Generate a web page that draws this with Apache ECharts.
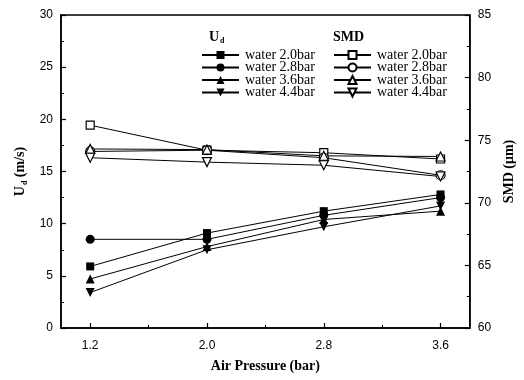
<!DOCTYPE html>
<html>
<head>
<meta charset="utf-8">
<script src="https://cdn.jsdelivr.net/npm/echarts@6/dist/echarts.min.js"></script>
<style>
  html, body { margin: 0; padding: 0; background: #fff; }
  #chart { width: 524px; height: 380px; }
</style>
</head>
<body>
<div id="chart"></div>
<script>
// Air pressure on the horizontal axis (bar)
const airPressure = [1.2, 2.0, 2.8, 3.6];
const xLabelTicks = [1.2, 2.0, 2.8, 3.6];
const xMinorTicks = [1.6, 2.4, 3.2];

// Water pressure of each curve
const waterLabels = ['water 2.0bar', 'water 2.8bar', 'water 3.6bar', 'water 4.4bar'];

// Droplet velocity U_d (m/s), left axis
const ud20 = [5.9, 9.1, 11.2, 12.8];
const ud28 = [8.5, 8.5, 10.8, 12.5];
const ud36 = [4.7, 7.8, 10.4, 11.2];
const ud44 = [3.4, 7.5, 9.7, 11.7];

// Sauter mean diameter SMD (μm), right axis
const smd20 = [76.2, 74.2, 74.0, 73.5];
const smd28 = [74.1, 74.2, 73.6, 72.2];
const smd36 = [74.3, 74.25, 73.75, 73.7];
const smd44 = [73.6, 73.25, 73.0, 72.1];

const serif = '"Liberation Serif", "DejaVu Serif", serif';
const sans = '"Liberation Sans", Arial, sans-serif';

const markerShapes = [
  { symbol: 'rect', rotate: 0, size: 8 },
  { symbol: 'circle', rotate: 0, size: 9 },
  { symbol: 'triangle', rotate: 0, size: 9 },
  { symbol: 'triangle', rotate: 180, size: 9 }
];

function pairs(ys) {
  return airPressure.map((x, i) => [x, ys[i]]);
}

function makeSeries(prefix, label, values, shape, filled, yIndex) {
  return {
    name: prefix + ' ' + label,
    type: 'line',
    xAxisIndex: 0,
    yAxisIndex: yIndex,
    data: pairs(values),
    symbol: shape.symbol,
    symbolRotate: shape.rotate,
    symbolSize: shape.size,
    showAllSymbol: true,
    lineStyle: { color: '#000', width: 1 },
    itemStyle: {
      color: filled ? '#000' : '#fff',
      borderColor: '#000',
      borderWidth: filled ? 0 : 1.2
    },
    emphasis: { disabled: true },
    animation: false,
    z: filled ? 3 : 4
  };
}

const udSets = [ud20, ud28, ud36, ud44];
const smdSets = [smd20, smd28, smd36, smd44];

const series = [];
udSets.forEach((vals, i) => series.push(makeSeries('Ud', waterLabels[i], vals, markerShapes[i], true, 0)));
smdSets.forEach((vals, i) => series.push(makeSeries('SMD', waterLabels[i], vals, markerShapes[i], false, 1)));

const legendCommon = {
  orient: 'vertical',
  top: 48,
  padding: 0,
  itemWidth: 37,
  itemHeight: 10,
  itemGap: -1.5,
  selectedMode: false,
  formatter: name => name.replace(/^(Ud|SMD) /, ''),
  textStyle: { fontFamily: serif, fontSize: 14, lineHeight: 12, color: '#000', padding: [0, 0, 0, 1] }
};

const option = {
  backgroundColor: '#fff',
  animation: false,
  grid: {
    left: 61, right: 45, top: 15, bottom: 52,
    show: true, borderColor: '#000', borderWidth: 1.5
  },
  title: [
    {
      text: '{b|U}{s|d}',
      left: 209, top: 29, padding: 0,
      textStyle: {
        rich: {
          b: { fontFamily: serif, fontWeight: 'bold', fontSize: 14, color: '#000' },
          s: { fontFamily: serif, fontWeight: 'bold', fontSize: 8, color: '#000', verticalAlign: 'bottom', padding: [8, 0, 0, 1] }
        }
      }
    },
    {
      text: 'SMD',
      left: 333, top: 30, padding: 0,
      textStyle: { fontFamily: serif, fontWeight: 'bold', fontSize: 14, color: '#000' }
    }
  ],
  legend: [
    Object.assign({}, legendCommon, {
      left: 201,
      data: udSets.map((_, i) => 'Ud ' + waterLabels[i])
    }),
    Object.assign({}, legendCommon, {
      left: 333,
      data: smdSets.map((_, i) => 'SMD ' + waterLabels[i])
    })
  ],
  xAxis: [
    {
      type: 'value',
      min: 1.0, max: 3.8,
      name: 'Air Pressure (bar)',
      nameLocation: 'middle',
      nameGap: 31,
      nameTextStyle: { fontFamily: serif, fontWeight: 'bold', fontSize: 14, color: '#000' },
      axisLine: { show: true, lineStyle: { color: '#000', width: 1.5 } },
      axisTick: { show: true, inside: true, length: 5, customValues: xLabelTicks, lineStyle: { color: '#000', width: 1.2 } },
      axisLabel: { customValues: xLabelTicks, formatter: v => v.toFixed(1), fontFamily: sans, fontSize: 12, color: '#000', margin: 12 },
      splitLine: { show: false }
    },
    {
      type: 'value',
      min: 1.0, max: 3.8,
      position: 'bottom',
      axisLine: { show: false },
      axisTick: { show: true, inside: true, length: 3, customValues: xMinorTicks, lineStyle: { color: '#000', width: 1 } },
      axisLabel: { show: false },
      splitLine: { show: false }
    }
  ],
  yAxis: [
    {
      type: 'value',
      min: 0, max: 30, interval: 5,
      name: '{b|U}{s|d}{b| (m/s)}',
      nameLocation: 'middle',
      nameRotate: 90,
      nameGap: 31,
      nameTextStyle: {
        rich: {
          b: { fontFamily: serif, fontWeight: 'bold', fontSize: 14, color: '#000' },
          s: { fontFamily: serif, fontWeight: 'bold', fontSize: 8, color: '#000', verticalAlign: 'bottom', padding: [8, 0, 0, 1] }
        }
      },
      axisLine: { show: true, lineStyle: { color: '#000', width: 1.5 } },
      axisTick: { show: true, inside: true, length: 5, lineStyle: { color: '#000', width: 1.2 } },
      minorTick: { show: true, splitNumber: 2, length: 3, lineStyle: { color: '#000', width: 1 } },
      axisLabel: { fontFamily: sans, fontSize: 12, color: '#000', margin: 8 },
      splitLine: { show: false }
    },
    {
      type: 'value',
      min: 60, max: 85, interval: 5,
      position: 'right',
      name: 'SMD (μm)',
      nameLocation: 'middle',
      nameRotate: 90,
      nameGap: 28,
      nameTextStyle: { fontFamily: serif, fontWeight: 'bold', fontSize: 14, color: '#000' },
      axisLine: { show: true, lineStyle: { color: '#000', width: 1.5 } },
      axisTick: { show: true, inside: true, length: 5, lineStyle: { color: '#000', width: 1.2 } },
      minorTick: { show: true, splitNumber: 2, length: 3, lineStyle: { color: '#000', width: 1 } },
      axisLabel: { fontFamily: sans, fontSize: 12, color: '#000', margin: 8 },
      splitLine: { show: false }
    }
  ],
  series: series
};

const chart = echarts.init(document.getElementById('chart'), null, { renderer: 'canvas' });
chart.setOption(option);
</script>
</body>
</html>
